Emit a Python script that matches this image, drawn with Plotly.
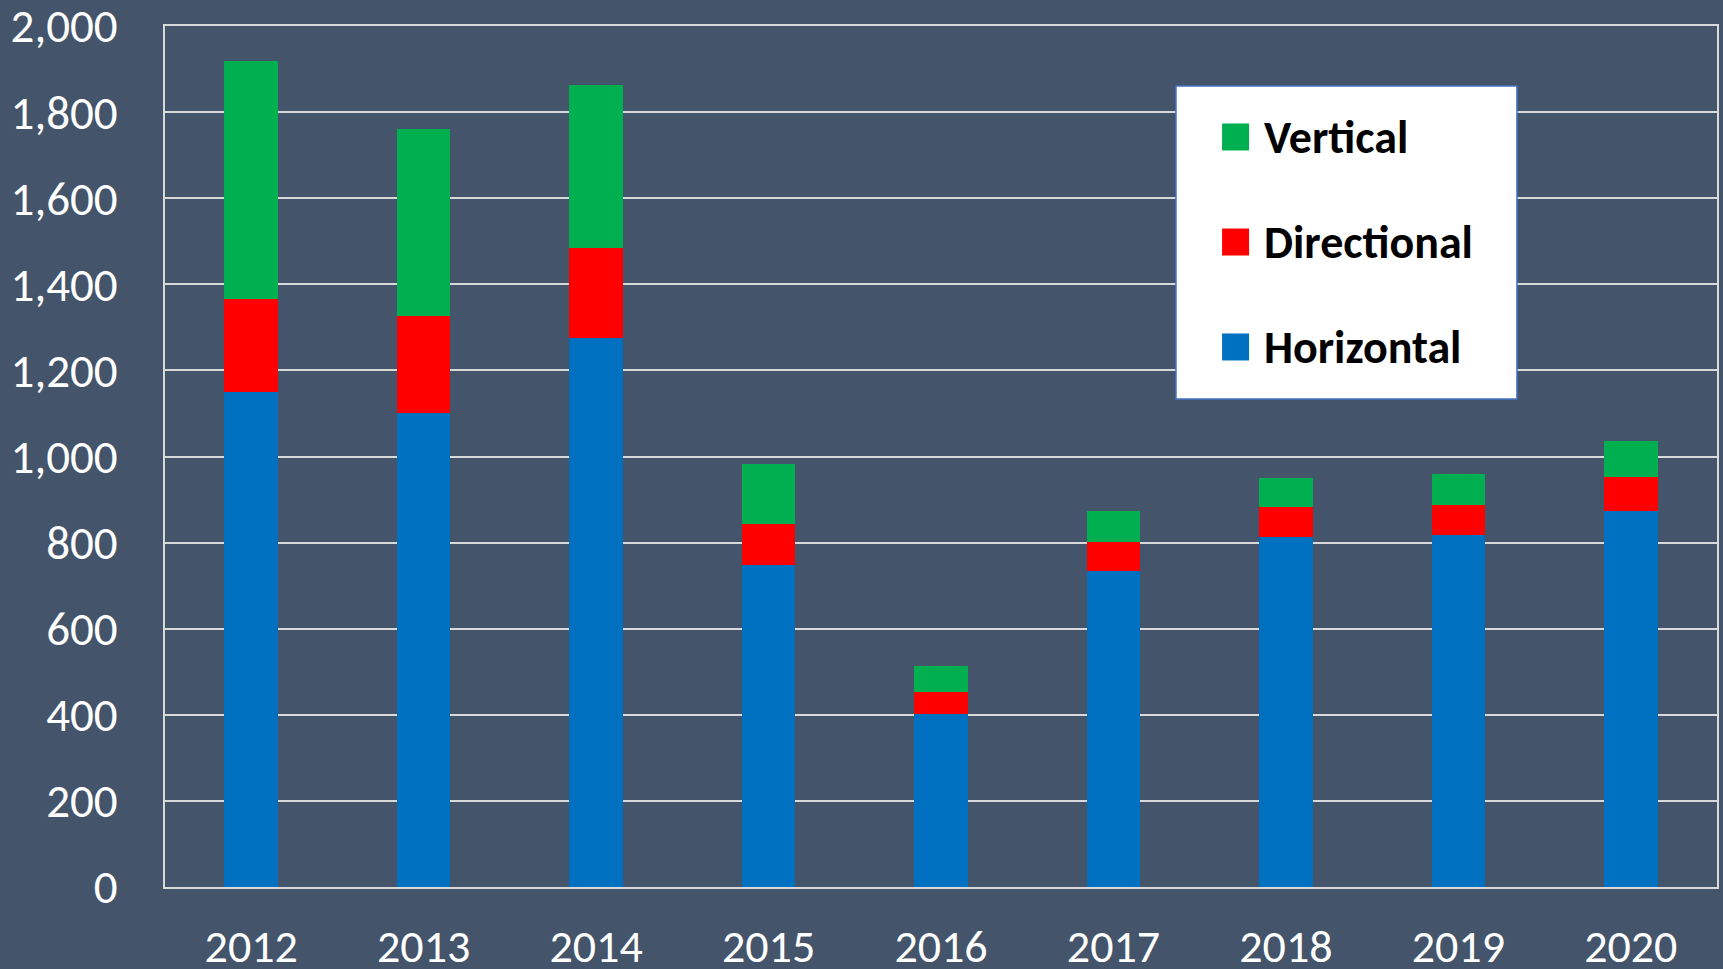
import plotly.graph_objects as go

years = ['2012', '2013', '2014', '2015', '2016', '2017', '2018', '2019', '2020']
horizontal = [1150, 1101, 1275, 747, 403, 733, 813, 818, 874]
directional = [216, 225, 209, 96, 50, 69, 69, 70, 79]
vertical = [552, 434, 378, 140, 60, 71, 68, 71, 83]

y_ticks = [0, 200, 400, 600, 800, 1000, 1200, 1400, 1600, 1800, 2000]

series = [
    ('Horizontal', horizontal, '#0070C0'),
    ('Directional', directional, '#FF0000'),
    ('Vertical', vertical, '#00B050'),
]

BG = '#44546A'
GRID = '#D9D9D9'
FONT = 'Calibri, Carlito, Lato, sans-serif'

fig = go.Figure()
for name, vals, color in series:
    fig.add_trace(go.Bar(x=years, y=vals, name=name, marker_color=color,
                         marker_line_width=0, showlegend=False))

# hand-made legend box, top series first (like the original)
shapes = [dict(type='rect', xref='paper', yref='paper',
               x0=0.6514, x1=0.8711, y0=0.5668, y1=0.9303,
               fillcolor='white', line=dict(color='#4472C4', width=1.5), layer='above')]
annotations = []
rows = [0.8711, 0.7491, 0.6272]
for (name, vals, color), ry in zip(series[::-1], rows):
    shapes.append(dict(type='rect', xref='paper', yref='paper',
                       xsizemode='pixel', ysizemode='pixel',
                       xanchor=0.6898, yanchor=ry,
                       x0=-13.5, x1=13.5, y0=-13.5, y1=13.5,
                       fillcolor=color, line_width=0, layer='above'))
    annotations.append(dict(xref='paper', yref='paper', x=0.7068, y=ry,
                            xanchor='left', yanchor='middle', showarrow=False,
                            text='<b>%s</b>' % name,
                            font=dict(family=FONT, size=46, color='black')))

fig.update_layout(
    width=1723, height=969,
    margin=dict(l=165, r=6, t=26, b=82),
    paper_bgcolor=BG, plot_bgcolor=BG,
    barmode='stack', bargap=0.69,
    font=dict(family=FONT, size=46, color='white'),
    shapes=shapes, annotations=annotations,
    showlegend=False,
)
fig.update_xaxes(showgrid=False, showline=True, mirror=True, linecolor=GRID,
                 linewidth=2, ticks='', ticklabelstandoff=18, automargin=False,
                 ticklabeloverflow='allow',
                 tickfont=dict(size=46, color='white'))
fig.update_yaxes(range=[0, 2000], tickvals=y_ticks, tickformat=',d',
                 showgrid=True, gridcolor=GRID, gridwidth=1.5,
                 showline=True, mirror=True, linecolor=GRID, linewidth=2,
                 ticks='', ticklabelstandoff=36, zeroline=False, automargin=False,
                 ticklabeloverflow='allow',
                 tickfont=dict(size=47, color='white'))

# page margin off so the chart fills the window
fig.write_html('out.html', config={'displayModeBar': False},
               post_script="document.body.style.margin='0';")
